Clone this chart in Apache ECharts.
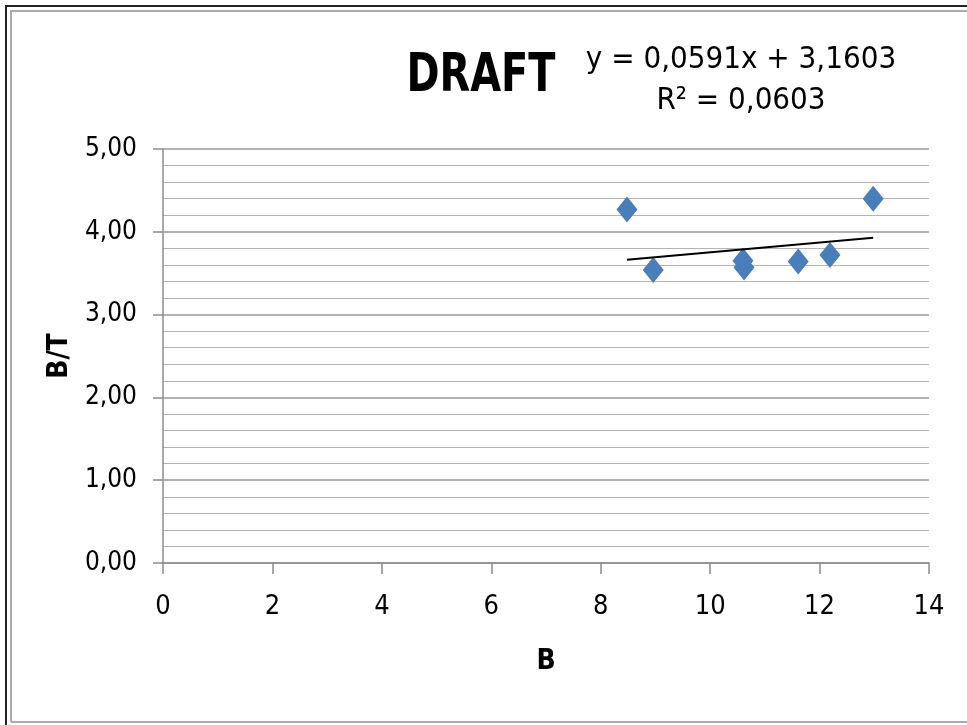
<!DOCTYPE html>
<html>
<head>
<meta charset="utf-8">
<script src="https://cdn.jsdelivr.net/npm/echarts@6/dist/echarts.min.js"></script>
<style>
html,body{margin:0;padding:0;background:#fff;}
#chart{width:967px;height:725px;}
</style>
</head>
<body>
<div id="chart"></div>
<script>
// Data
const bValues  = [8.48, 8.96, 10.60, 10.62, 11.61, 12.19, 12.98];
const btValues = [4.27, 3.54, 3.65, 3.57, 3.64, 3.72, 4.40];
const trendSlope = 0.0591;
const trendIntercept = 3.1603;
const titleText = 'DRAFT';
const equationLines = ['y = 0,0591x + 3,1603', 'R² = 0,0603'];
const xTitle = 'B';
const yTitle = 'B/T';

const FONT = '"DejaVu Sans Condensed", "Liberation Sans", sans-serif';

const points = bValues.map((b, i) => [b, btValues[i]]);
const xMin = Math.min(...bValues), xMax = Math.max(...bValues);
const trend = [[xMin, trendSlope * xMin + trendIntercept], [xMax, trendSlope * xMax + trendIntercept]];

const chart = echarts.init(document.getElementById('chart'));
chart.setOption({
  animation: false,
  backgroundColor: '#ffffff',
  grid: {left: 163, right: 38, top: 149, bottom: 162, containLabel: false},
  xAxis: {
    type: 'value', min: 0, max: 14, interval: 2,
    name: xTitle, nameLocation: 'middle', nameGap: 85,
    nameTextStyle: {fontFamily: FONT, fontWeight: 'bold', fontSize: 28, color: '#000'},
    axisLine: {show: true, onZero: false, lineStyle: {color: '#8c8c8c', width: 1.5}},
    axisTick: {show: true, length: 11, lineStyle: {color: '#8c8c8c', width: 1.5}},
    axisLabel: {fontFamily: FONT, fontSize: 27, color: '#000', margin: 30},
    splitLine: {show: false}
  },
  yAxis: {
    type: 'value', min: 0, max: 5, interval: 1,
    name: yTitle, nameLocation: 'middle', nameGap: 80, nameRotate: 90,
    nameTextStyle: {fontFamily: FONT, fontWeight: 'bold', fontSize: 28, color: '#000'},
    axisLine: {show: true, onZero: false, lineStyle: {color: '#8c8c8c', width: 1.5}},
    axisTick: {show: true, length: 10, lineStyle: {color: '#8c8c8c', width: 1.5}},
    axisLabel: {fontFamily: FONT, fontSize: 26, color: '#000', margin: 26,
      formatter: v => v.toFixed(2).replace('.', ',')},
    splitLine: {show: true, lineStyle: {color: '#9a9a9a', width: 1.5}},
    minorTick: {show: false, splitNumber: 5},
    minorSplitLine: {show: true, lineStyle: {color: '#b4b4b4', width: 1.2}}
  },
  series: [
    {
      type: 'scatter', data: points, symbol: 'diamond', symbolSize: [21, 26],
      itemStyle: {color: '#4a7ebb', opacity: 1}, z: 3
    },
    {
      type: 'line', data: trend, symbol: 'none',
      lineStyle: {color: '#000', width: 2}, z: 4
    }
  ],
  graphic: [
    {type: 'text', x: 481, y: 77, scaleX: 0.82, z: 10,
      style: {text: titleText, fontFamily: FONT, fontWeight: 'bold', fontSize: 54, fill: '#000', align: 'center', verticalAlign: 'middle'}},
    {type: 'text', x: 741, y: 60, z: 10,
      style: {text: equationLines[0], fontFamily: FONT, fontSize: 31, fill: '#000', align: 'center', verticalAlign: 'middle'}},
    {type: 'text', x: 741, y: 101, z: 10,
      style: {text: equationLines[1], fontFamily: FONT, fontSize: 31, fill: '#000', align: 'center', verticalAlign: 'middle'}},
    {type: 'polyline', shape: {points: [[6, 725], [6, 6], [967, 6]]}, style: {stroke: '#222', lineWidth: 2, fill: null}},
    {type: 'polyline', shape: {points: [[11, 722], [11, 11], [967, 11]]}, style: {stroke: '#aaa', lineWidth: 2, fill: null}},
    {type: 'line', shape: {x1: 11, y1: 722, x2: 967, y2: 722}, style: {stroke: '#aaa', lineWidth: 2}}
  ]
});
</script>
</body>
</html>
